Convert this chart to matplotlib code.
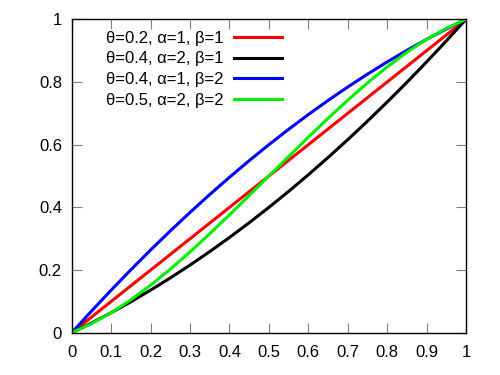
import matplotlib
matplotlib.use('Agg')
from matplotlib import pyplot as plt

plt.rcParams['font.family'] = ['Liberation Sans', 'DejaVu Sans']

# values
x = [0.0, 0.05, 0.1, 0.15, 0.2, 0.25, 0.3, 0.35, 0.4, 0.45, 0.5,
     0.55, 0.6, 0.65, 0.7, 0.75, 0.8, 0.85, 0.9, 0.95, 1.0]
y_red = [0.0, 0.05, 0.1, 0.15, 0.2, 0.25, 0.3, 0.35, 0.4, 0.45, 0.5,
         0.55, 0.6, 0.65, 0.7, 0.75, 0.8, 0.85, 0.9, 0.95, 1.0]
y_black = [0.0, 0.031, 0.064, 0.099, 0.136, 0.175, 0.216, 0.259, 0.304, 0.351, 0.400,
           0.451, 0.504, 0.559, 0.616, 0.675, 0.736, 0.799, 0.864, 0.931, 1.0]
y_blue = [0.0, 0.069, 0.136, 0.201, 0.264, 0.325, 0.384, 0.441, 0.496, 0.549, 0.600,
          0.649, 0.696, 0.741, 0.784, 0.825, 0.864, 0.901, 0.936, 0.969, 1.0]
y_green = [0.0, 0.029, 0.064, 0.105, 0.152, 0.203, 0.258, 0.316, 0.376, 0.438, 0.500,
           0.562, 0.624, 0.684, 0.742, 0.797, 0.848, 0.895, 0.936, 0.971, 1.0]

labels = ['θ=0.2, α=1, β=1', 'θ=0.4, α=2, β=1', 'θ=0.4, α=1, β=2', 'θ=0.5, α=2, β=2']
colors = ['#ff0000', '#000000', '#0000ff', '#00ee00']
x_ticks = [0, 0.1, 0.2, 0.3, 0.4, 0.5, 0.6, 0.7, 0.8, 0.9, 1]
x_ticklabels = ['0', '0.1', '0.2', '0.3', '0.4', '0.5', '0.6', '0.7', '0.8', '0.9', '1']
y_ticks = [0, 0.2, 0.4, 0.6, 0.8, 1]
y_ticklabels = ['0', '0.2', '0.4', '0.6', '0.8', '1']

fig = plt.figure(figsize=(5, 3.75), dpi=100)
ax = fig.add_axes([0.1434, 0.1125, 0.7886, 0.836])

for y, lab, col in zip([y_red, y_black, y_blue, y_green], labels, colors):
    ax.plot(x, y, color=col, lw=2.2, label=lab, solid_joinstyle='round')

ax.set_xlim(0, 1)
ax.set_ylim(0, 1)
ax.set_xticks(x_ticks)
ax.set_xticklabels(x_ticklabels)
ax.set_yticks(y_ticks)
ax.set_yticklabels(y_ticklabels)
ax.tick_params(direction='in', length=7, width=0.8, color='#808080',
               top=True, right=True, labelsize=12)
ax.tick_params(axis='x', pad=9)
ax.tick_params(axis='y', pad=7)
for sp in ax.spines.values():
    sp.set_linewidth(1.0)

ax.legend(loc='upper right', bbox_to_anchor=(0.564, 0.918),
          bbox_transform=fig.transFigure, frameon=False, markerfirst=False,
          fontsize=12, borderpad=0, borderaxespad=0, labelspacing=0.34,
          handlelength=2.9, handletextpad=0.6)

fig.savefig('out.png', dpi=100)
